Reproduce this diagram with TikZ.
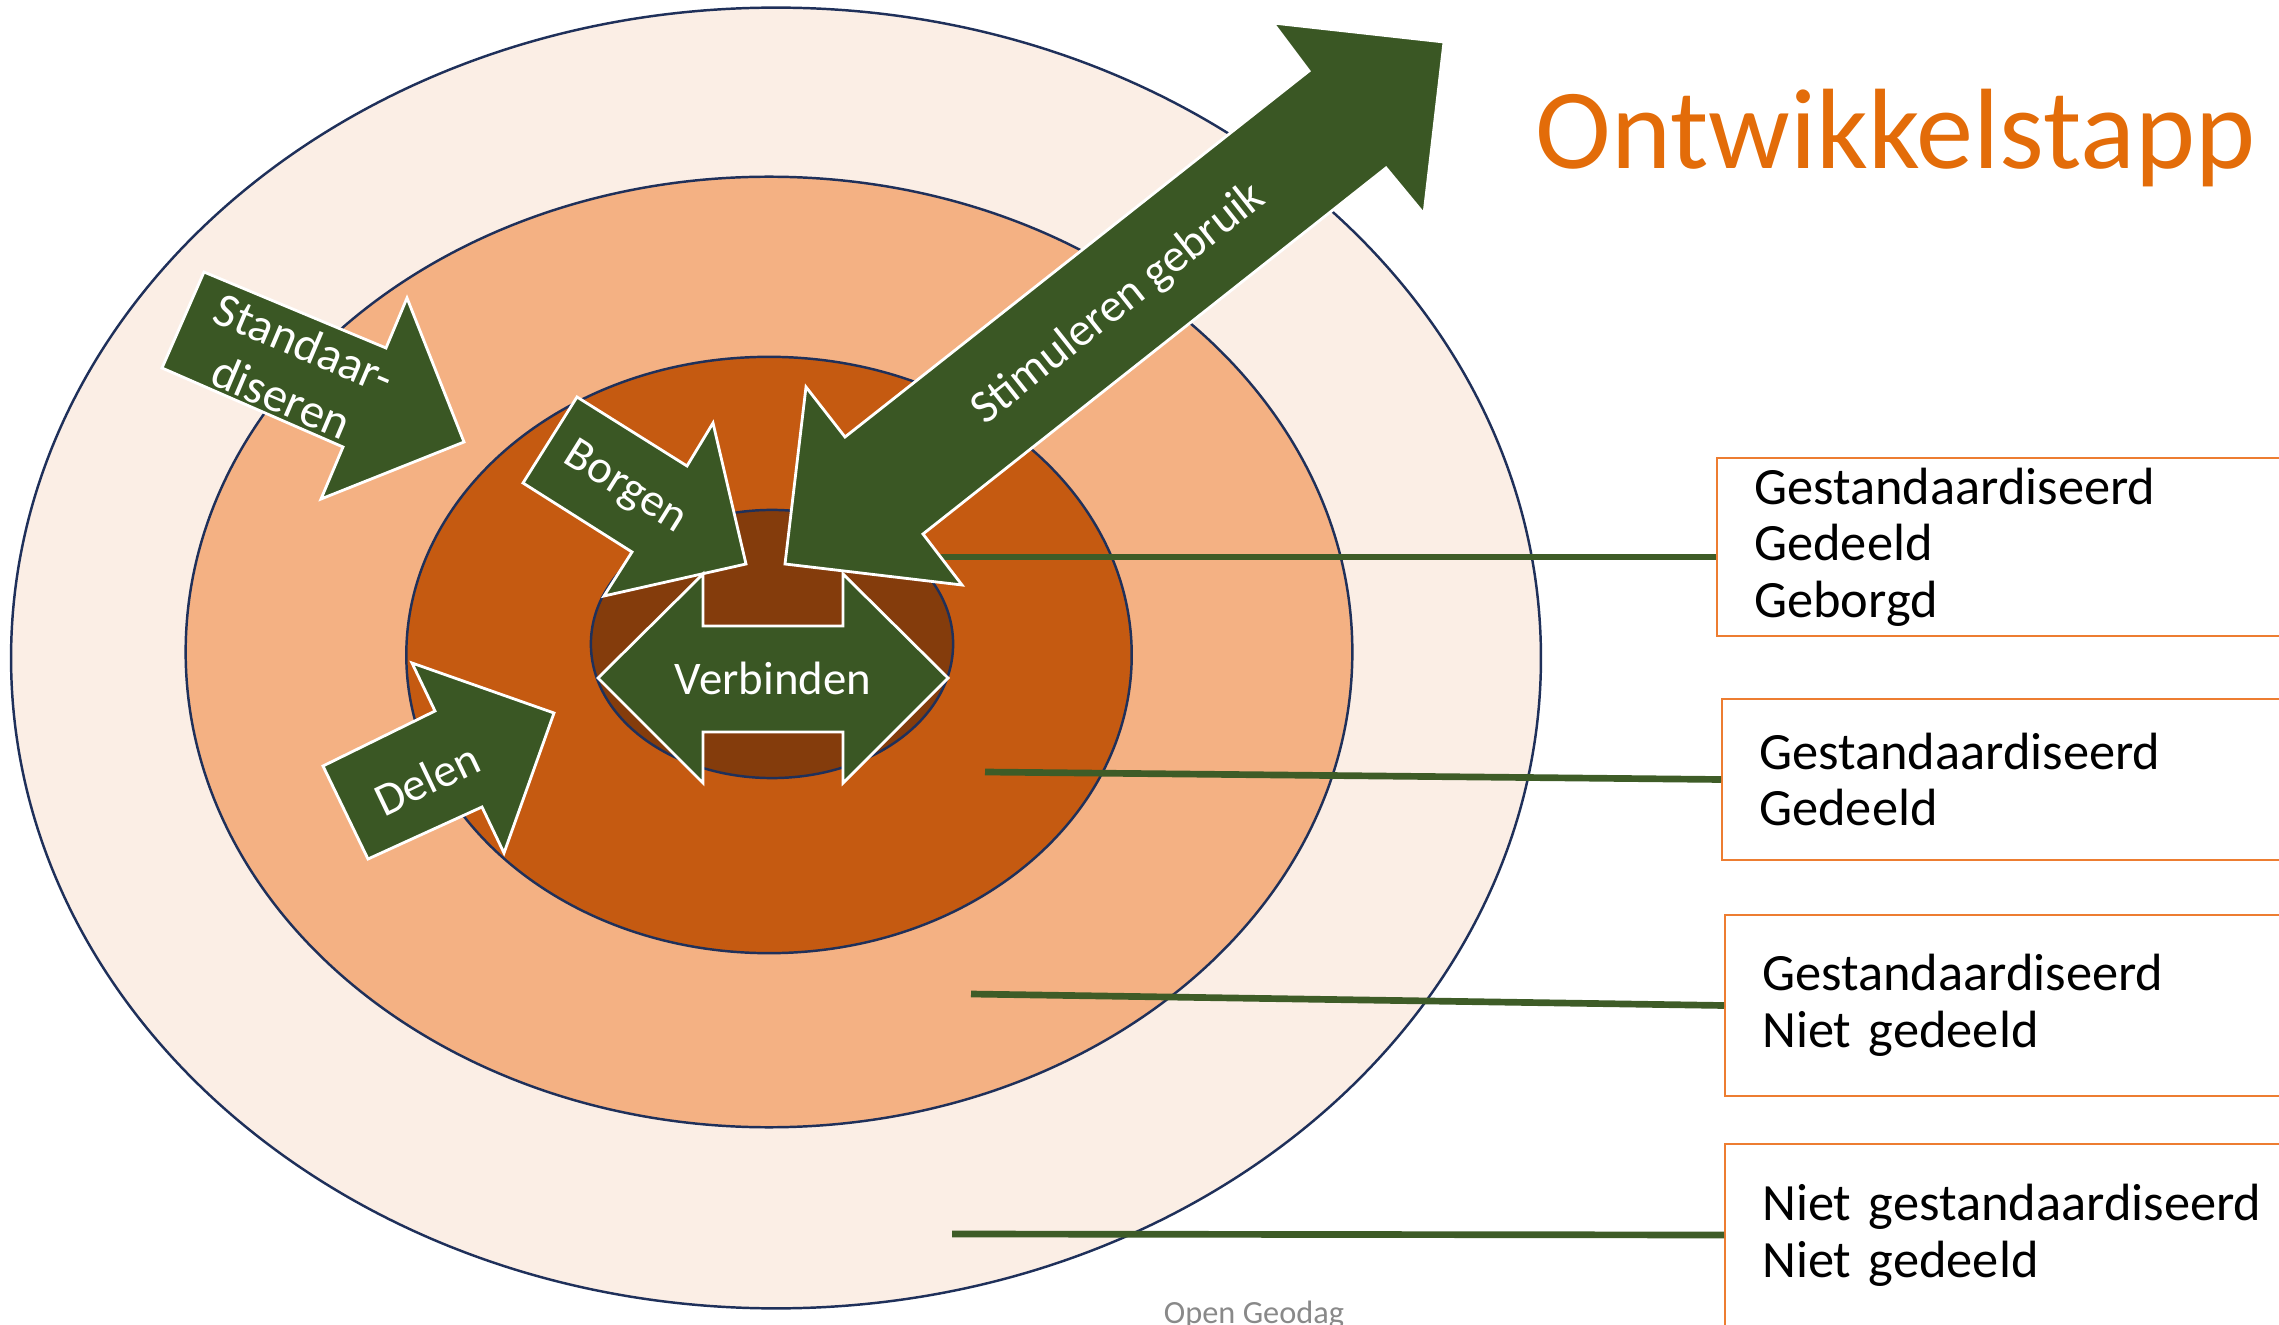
\documentclass[tikz,border=0pt]{standalone}
\usepackage{fontspec}
\setmainfont{Carlito}
\definecolor{buiten}{RGB}{251,238,229}
\definecolor{midden}{RGB}{244,177,131}
\definecolor{binnen}{RGB}{197,90,17}
\definecolor{kern}{RGB}{132,60,12}
\definecolor{ringlijn}{RGB}{31,48,90}
\definecolor{pijlgroen}{RGB}{58,87,36}
\definecolor{lijngroen}{RGB}{62,92,39}
\definecolor{staporanje}{RGB}{237,125,49}
\definecolor{titeloranje}{RGB}{227,108,9}
\definecolor{voetgrijs}{RGB}{137,137,137}
\begin{document}
\begin{tikzpicture}[x=0.01cm,y=-0.01cm,
    ring/.style={draw=ringlijn,line width=0.7pt},
    blokpijl/.style={fill=pijlgroen,draw=white,line width=0.8pt,line join=miter},
    pijltekst/.style={text=white,inner sep=0pt,font=\fontsize{13.3}{15.9}\selectfont},
    stapbox/.style={draw=staporanje,line width=0.7pt,anchor=west,align=left,
      inner xsep=0.37cm,inner ysep=0pt,font=\fontsize{14.9}{16.1}\selectfont},
    koppel/.style={draw=lijngroen,line width=1.9pt}]

        \clip (0,0) rectangle (2279,1325);

        \filldraw[ring,fill=buiten] (776,658) ellipse [x radius=7.645cm,y radius=6.50cm];
        \filldraw[ring,fill=midden] (769,652) ellipse [x radius=5.83cm,y radius=4.75cm];
        \filldraw[ring,fill=binnen] (769,655) ellipse [x radius=3.625cm,y radius=2.98cm];
        \filldraw[ring,fill=kern]   (772,644) ellipse [x radius=1.81cm,y radius=1.34cm];

        \node[text=titeloranje,anchor=base west,inner sep=0pt,
          font=\fontsize{32.5}{39}\selectfont] (titel) at (1535,169) {Ontwikkelstapp};

        \begin{scope}[every node/.style={stapbox}]
          \node[text width=4.9cm,minimum height=1.78cm] (b1) at (1716,547)
            {Gestandaardiseerd\\Gedeeld\\Geborgd};
          \node[text width=5.0cm,minimum height=1.61cm] (b2) at (1721,779.5)
            {Gestandaardiseerd\\Gedeeld};
          \node[text width=5.0cm,minimum height=1.81cm] (b3) at (1724,1005.5)
            {Gestandaardiseerd\\Niet gedeeld};
          \node[text width=5.2cm,minimum height=1.82cm] (b4) at (1724,1235)
            {Niet gestandaardiseerd\\Niet gedeeld};
        \end{scope}

        \coordinate (s1) at (937,557);
        \coordinate (s2) at (985,772);
        \coordinate (s3) at (971,994);
        \coordinate (s4) at (952,1234);
        \draw[koppel] (s1) -- (s1 -| b1.west);
        \draw[koppel] (s2) -- (b2.west);
        \draw[koppel] (s3) -- (b3.west);
        \draw[koppel] (s4) -- (b4.west);

        \begin{scope}[every path/.style={blokpijl}]
          \path (204,272) -- (386,348) -- (407,298) -- (464,442) -- (321,499)
            -- (343,447) -- (162,368) -- cycle;
          \path (577,397) -- (687,466) -- (713,423) -- (746,564) -- (604,596)
            -- (632,552) -- (523,483) -- cycle;
          \path (323,766) -- (435,711) -- (412,663) -- (554,713) -- (504,853)
            -- (482,807) -- (368,859) -- cycle;
          \path (598,678) -- (703,574) -- (703,626) -- (843,626) -- (843,574)
            -- (948,678) -- (843,783) -- (843,732) -- (703,732) -- (703,783) -- cycle;
          \path (785,564) -- (806,387) -- (845,437) -- (1309,71) -- (1273,23)
            -- (1444,42) -- (1424,214) -- (1386,168) -- (923,534) -- (962,585) -- cycle;
        \end{scope}

        \begin{scope}[every node/.style={pijltekst}]
          \node[rotate=-23,align=center,font=\fontsize{13.8}{16.6}\selectfont]
            (standaard) at (293,370) {Standaar-\\diseren};
          \node[rotate=-32] (borgen) at (625,488) {Borgen};
          \node[rotate=25.5] (delen) at (427,779) {Delen};
          \node[anchor=base] (verbinden) at (773,695) {Verbinden};
          \node[rotate=38.4] (stimuleren) at (1119,304) {Stimuleren gebruik};
        \end{scope}

        \node[text=voetgrijs,anchor=base,inner sep=0pt,font=\fontsize{9.2}{11}\selectfont]
          (voet) at (1254,1323) {Open Geodag};

      \end{tikzpicture}
\end{document}
